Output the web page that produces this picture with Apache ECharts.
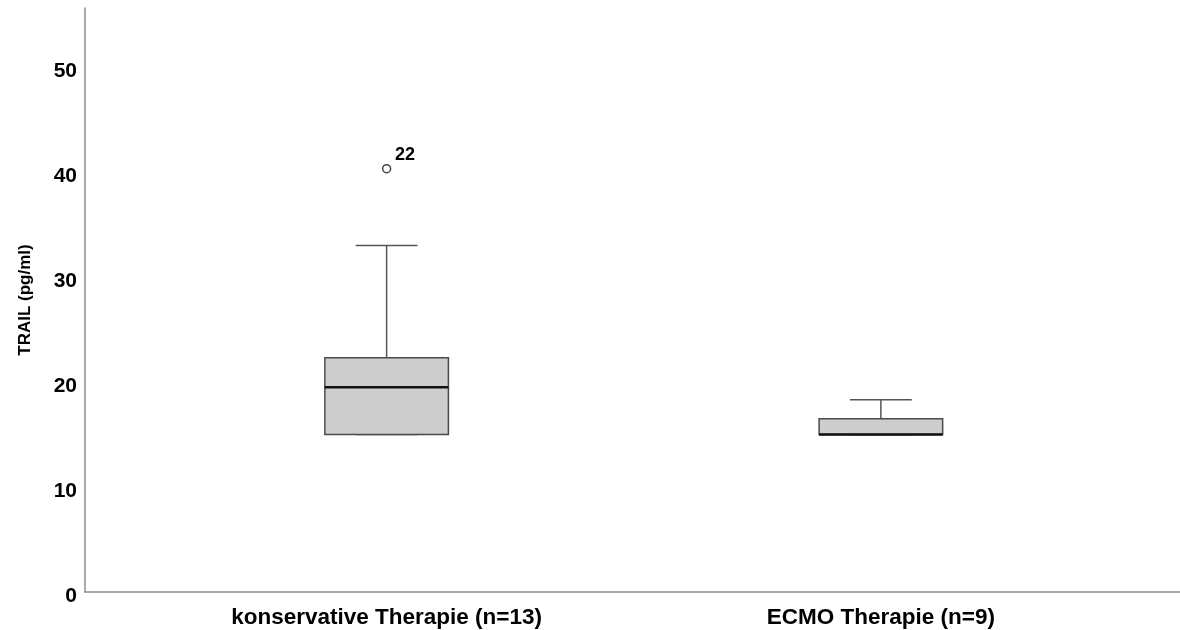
<!DOCTYPE html>
<html>
<head>
<meta charset="utf-8">
<script src="https://cdn.jsdelivr.net/npm/echarts@6/dist/echarts.min.js"></script>
<style>
  html, body { margin: 0; padding: 0; background: #fff; }
  #chart { width: 1180px; height: 630px; }
</style>
</head>
<body>
<div id="chart"></div>
<script>
// Groups and their box statistics (TRAIL, pg/ml)
const categories = ['konservative Therapie (n=13)', 'ECMO Therapie (n=9)'];
const whiskerLow = [15.0, 15.0];
const quartile1 = [15.0, 15.0];
const medians = [19.5, 15.0];
const quartile3 = [22.3, 16.5];
const whiskerHigh = [33.0, 18.3];
// Outliers: [group index, value, case label]
const outliers = [[0, 40.3, '22']];
const yTicks = [0, 10, 20, 30, 40, 50];

const yMax = 55.6;
const FONT = '"Liberation Sans", Arial, sans-serif';

const boxData = categories.map((c, i) => [i, whiskerLow[i], quartile1[i], medians[i], quartile3[i], whiskerHigh[i]]);

function renderBox(params, api) {
  const idx = api.value(0);
  const band = api.size([1, 0])[0];
  const boxW = band * 0.25;
  const capW = boxW * 0.5;
  const pLo = api.coord([idx, api.value(1)]);
  const pQ1 = api.coord([idx, api.value(2)]);
  const pMed = api.coord([idx, api.value(3)]);
  const pQ3 = api.coord([idx, api.value(4)]);
  const pHi = api.coord([idx, api.value(5)]);
  const cx = pQ1[0];
  const lineStyle = { stroke: '#555', lineWidth: 1.5, fill: null };
  return {
    type: 'group',
    children: [
      { type: 'line', shape: { x1: cx, y1: pQ3[1], x2: cx, y2: pHi[1] }, style: lineStyle },
      { type: 'line', shape: { x1: cx - capW / 2, y1: pHi[1], x2: cx + capW / 2, y2: pHi[1] }, style: lineStyle },
      { type: 'line', shape: { x1: cx, y1: pQ1[1], x2: cx, y2: pLo[1] }, style: lineStyle },
      { type: 'line', shape: { x1: cx - capW / 2, y1: pLo[1], x2: cx + capW / 2, y2: pLo[1] }, style: lineStyle },
      { type: 'rect', shape: { x: cx - boxW / 2, y: pQ3[1], width: boxW, height: pQ1[1] - pQ3[1] },
        style: { fill: '#cdcdcd', stroke: '#4a4a4a', lineWidth: 1.5 } },
      { type: 'line', shape: { x1: cx - boxW / 2, y1: pMed[1], x2: cx + boxW / 2, y2: pMed[1] },
        style: { stroke: '#111', lineWidth: 2.5 } }
    ]
  };
}

const chart = echarts.init(document.getElementById('chart'));
chart.setOption({
  animation: false,
  backgroundColor: '#fff',
  grid: [
    // frame with the two axis lines
    { left: 85, right: 0, top: 8, bottom: 38 },
    // data area, category centres under each box
    { left: 139.5, width: 988.5, top: 8, bottom: 38 },
    // tick labels of the value axis, set slightly below their ticks
    { left: 85, right: 0, top: 12.5, bottom: 33.5 }
  ],
  xAxis: [
    { gridIndex: 0, type: 'value', min: 0, max: 1,
      axisLine: { show: true, lineStyle: { color: '#8c8c8c', width: 1.5 } },
      axisTick: { show: false }, axisLabel: { show: false }, splitLine: { show: false } },
    { gridIndex: 1, type: 'category', data: categories,
      axisLine: { show: false }, axisTick: { show: false }, splitLine: { show: false },
      axisLabel: { color: '#000', fontFamily: FONT, fontWeight: 'bold', fontSize: 22.5, margin: 14 } },
    { gridIndex: 2, type: 'value', min: 0, max: 1, show: false }
  ],
  yAxis: [
    { gridIndex: 0, type: 'value', min: 0, max: yMax, interval: 10,
      axisLine: { show: true, lineStyle: { color: '#8c8c8c', width: 1.5 } },
      axisTick: { show: false }, splitLine: { show: false }, axisLabel: { show: false },
      name: 'TRAIL (pg/ml)', nameLocation: 'middle', nameGap: 51, nameRotate: 90,
      nameTextStyle: { color: '#000', fontFamily: FONT, fontWeight: 'bold', fontSize: 17 } },
    { gridIndex: 1, type: 'value', min: 0, max: yMax, interval: 10, show: false },
    { gridIndex: 2, type: 'value', min: 0, max: yMax, interval: 10,
      axisLine: { show: false }, axisTick: { show: false }, splitLine: { show: false },
      axisLabel: {
        color: '#000', fontFamily: FONT, fontWeight: 'bold', fontSize: 21, margin: 8,
        formatter: v => (yTicks.includes(v) ? String(v) : '')
      } }
  ],
  series: [
    {
      type: 'custom', xAxisIndex: 1, yAxisIndex: 1,
      renderItem: renderBox,
      encode: { x: 0, y: [1, 2, 3, 4, 5] },
      data: boxData
    },
    {
      type: 'scatter', xAxisIndex: 1, yAxisIndex: 1,
      symbol: 'circle', symbolSize: 8,
      itemStyle: { color: '#fff', borderColor: '#444', borderWidth: 1.5, opacity: 1 },
      label: {
        show: true, position: [13, -18],
        formatter: p => p.data[2],
        color: '#000', fontFamily: FONT, fontWeight: 'bold', fontSize: 18
      },
      data: outliers
    }
  ]
});
</script>
</body>
</html>
